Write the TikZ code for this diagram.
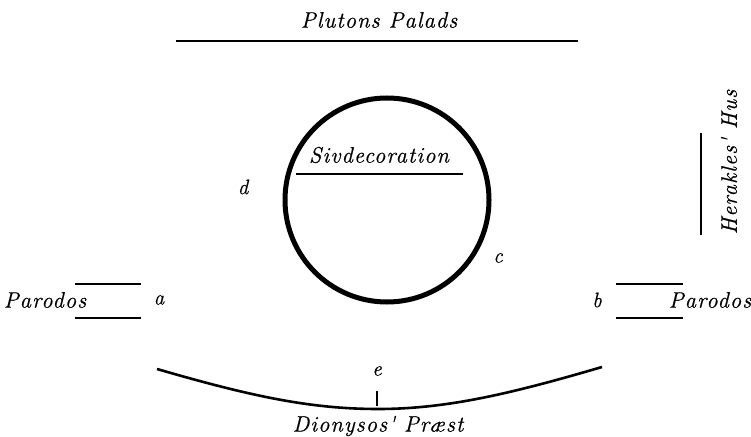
\documentclass[tikz,border=0pt]{standalone}
\usepackage{fontspec}
\setmainfont{Latin Modern Roman}
\newfontfamily\lbl[LetterSpace=5,FakeBold=0.6]{Latin Modern Roman}
\newfontfamily\ltr[FakeBold=0.6]{Latin Modern Roman}
\begin{document}
\begin{tikzpicture}[x=1bp,y=-1bp,
  lab/.style={font=\fontsize{22.5}{25}\selectfont\lbl\itshape, inner sep=0pt},
  letter/.style={font=\fontsize{21}{24}\selectfont\ltr\itshape, inner sep=0pt},
  wall/.style={line width=1.7bp},
  ring/.style={line width=5bp}]
\path[use as bounding box, fill=white] (0,0) rectangle (751,437);
% Plutons Palads
\node[lab] (pp) at (379,20) {Plutons Palads};
\coordinate (ppl) at (176,41); \coordinate (ppr) at (578,41);
\draw[wall] (ppl) -- (ppr);
% circle
\node[ring, draw, circle, minimum size=204bp, inner sep=0pt] (ring) at (387,200) {};
\node[lab] (sd) at (379,155) {Sivdecoration};
\coordinate (sdl) at (296,174); \coordinate (sdr) at (463,174);
\draw[wall] (sdl) -- (sdr);
\node[letter] (d) at (243,187) {d};
\node[letter] (c) at (498,258) {c};
% Herakles
\node[lab, rotate=90] (hh) at (729,162) {Herakles' Hus};
\coordinate (ht) at (701,133); \coordinate (hb) at (701,235);
\draw[wall] (ht) -- (hb);
% left parodos
\node[lab] (pl) at (45,300) {Parodos};
\node[letter] (a) at (159,300) {a};
\coordinate (l1a) at (75,284); \coordinate (l1b) at (141,284);
\coordinate (l2a) at (75,318); \coordinate (l2b) at (141,318);
\draw[wall] (l1a) -- (l1b);
\draw[wall] (l2a) -- (l2b);
% right parodos
\node[letter] (b) at (597,300) {b};
\node[lab] (pr) at (710,300) {Parodos};
\coordinate (r1a) at (616,284); \coordinate (r1b) at (683,284);
\coordinate (r2a) at (616,318); \coordinate (r2b) at (683,318);
\draw[wall] (r1a) -- (r1b);
\draw[wall] (r2a) -- (r2b);
% Dionysos
\coordinate (al) at (157,369); \coordinate (am) at (378,409); \coordinate (ar) at (602,367);
\draw[line width=2.6bp] (al) .. controls (250,396) and (310,409) .. (am) .. controls (446,409) and (510,394) .. (ar);
\node[letter] (e) at (377,371) {e};
\coordinate (et) at (377,391); \coordinate (eb) at (377,406);
\draw[line width=1.2bp] (et) -- (eb);
\node[lab] (dp) at (378,426) {Dionysos' Præst};
\end{tikzpicture}
\end{document}
